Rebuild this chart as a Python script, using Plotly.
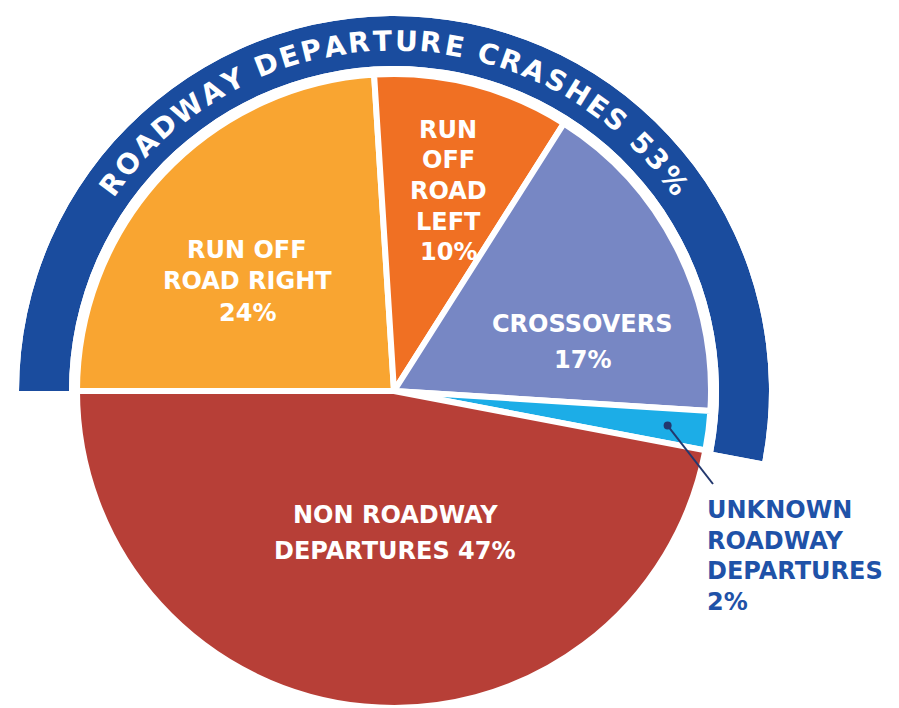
import math
import plotly.graph_objects as go

# ---------------- data ----------------
categories = ["RUN OFF ROAD RIGHT", "RUN OFF ROAD LEFT", "CROSSOVERS",
              "UNKNOWN ROADWAY DEPARTURES", "NON ROADWAY DEPARTURES"]
values = [24, 10, 17, 2, 47]
label_lines = [["RUN OFF", "ROAD RIGHT"],
               ["RUN", "OFF", "ROAD", "LEFT"],
               ["CROSSOVERS"],
               ["UNKNOWN", "ROADWAY", "DEPARTURES"],
               ["NON ROADWAY", "DEPARTURES"]]
ring_title = "ROADWAY DEPARTURE CRASHES"
ring_members = [0, 1, 2, 3]          # slices that make up the outer ring
ring_share = sum(values[i] for i in ring_members)   # 53

# ---------------- style / layout ----------------
W, H = 899, 708
CX, CY = 394, 391          # pie centre (px)
R_PIE = 317
R_OUT, R_IN = 375, 325
colors = ["#F9A531", "#F07023", "#7787C4", "#1CADE7", "#B73F37"]
RING = "#1A4C9E"
LABEL_BLUE = "#1F52A8"
FONT = "DejaVu Sans"
# (x centre, y centre, line spacing) for every slice label block, in px
label_pos = [(247, 281, 31.5), (448, 191, 30.7), (582, 342, 35),
             (705, 556, 30.7), (395, 533, 36)]


def px(x):
    return x / W


def py(y):
    return 1 - y / H


fig = go.Figure()

# inner pie
fig.add_trace(go.Pie(
    labels=categories, values=values, sort=False, direction="clockwise",
    rotation=-90, textinfo="none", hoverinfo="skip",
    marker=dict(colors=colors, line=dict(color="white", width=6)),
    domain=dict(x=[px(CX - R_PIE), px(CX + R_PIE)],
                y=[max(0, py(CY + R_PIE)), py(CY - R_PIE)]),
    showlegend=False,
))

# outer ring (barpolar on a partial sector so it may extend past the canvas)
ring_span = ring_share / 100 * 360
sector = [180 - ring_span, 180]
bottom_px = CY + R_OUT * max(0, -math.sin(math.radians(sector[0])))
fig.add_trace(go.Barpolar(
    r=[1], theta=[180 - ring_span / 2], width=[ring_span], base=0,
    marker=dict(color=RING, line=dict(width=0)), hoverinfo="skip",
    showlegend=False, subplot="polar"))

annotations = []
# slice labels, one annotation per line
for i, (lines, v) in enumerate(zip(label_lines, values)):
    if i == 4:
        rows = [lines[0], f"{lines[1]} {v}%"]
    else:
        rows = lines + [f"{v}%"]
    x, yc, sp = label_pos[i]
    n = len(rows)
    for k, row in enumerate(rows):
        y = yc + (k - (n - 1) / 2) * sp
        if i == 3:
            annotations.append(dict(text=row, x=px(x), y=py(y), xref="paper", yref="paper",
                                    xanchor="left", yanchor="middle", showarrow=False,
                                    font=dict(family=FONT, size=24, color=LABEL_BLUE, weight="bold")))
        else:
            annotations.append(dict(text=row, x=px(x), y=py(y), xref="paper", yref="paper",
                                    xanchor="center", yanchor="middle", showarrow=False,
                                    font=dict(family=FONT, size=24, color="white", weight="bold")))

# curved ring title
char_w = {" ": 0.348, "A": 0.774, "C": 0.734, "D": 0.830, "E": 0.683, "H": 0.837,
          "O": 0.850, "P": 0.733, "R": 0.770, "S": 0.720, "T": 0.682, "U": 0.812,
          "W": 1.103, "Y": 0.724, "3": 0.696, "5": 0.696, "%": 1.002}
ring_text = f"{ring_title} {ring_share}%"
FS, SP, R_TXT = 28, 2.9, 350
total = sum(char_w[c] * FS for c in ring_text) + SP * (len(ring_text) - 1)
s = -total / 2
for c in ring_text:
    w = char_w[c] * FS
    mid = s + w / 2
    s += w + SP
    if c == " ":
        continue
    a = 90 - math.degrees(mid / R_TXT)
    x = CX + R_TXT * math.cos(math.radians(a))
    y = CY - R_TXT * math.sin(math.radians(a))
    annotations.append(dict(text=c, x=px(x), y=py(y), xref="paper", yref="paper",
                            xanchor="center", yanchor="middle", showarrow=False,
                            textangle=90 - a,
                            font=dict(family=FONT, size=FS, color="white", weight="bold")))

# leader line for the small slice
cum = sum(values[:3]) + values[3] / 2
ang = 180 - cum / 100 * 360
dot_r = 0.87 * R_PIE
dx = CX + dot_r * math.cos(math.radians(ang))
dy = CY - dot_r * math.sin(math.radians(ang))
shapes = [
    dict(type="line", xref="paper", yref="paper", x0=px(dx), y0=py(dy),
         x1=px(713), y1=py(484), line=dict(color="#23386E", width=2)),
    dict(type="circle", xref="paper", yref="paper", x0=px(dx - 4), x1=px(dx + 4),
         y0=py(dy - 4), y1=py(dy + 4), fillcolor="#23386E", line=dict(width=0)),
]

fig.update_layout(
    width=W, height=H, margin=dict(l=0, r=0, t=0, b=0),
    paper_bgcolor="white", plot_bgcolor="white", showlegend=False,
    polar=dict(
        domain=dict(x=[px(CX - R_OUT), px(CX + R_OUT)], y=[py(bottom_px), py(CY - R_OUT)]),
        sector=sector, hole=R_IN / R_OUT, bgcolor="rgba(0,0,0,0)",
        radialaxis=dict(visible=False, range=[0, 1], showgrid=False),
        angularaxis=dict(visible=False, rotation=0, direction="counterclockwise", showgrid=False),
    ),
    annotations=annotations, shapes=shapes,
)

fig.write_html("out.html", config={"displayModeBar": False},
               post_script="document.body.style.margin='0';")
